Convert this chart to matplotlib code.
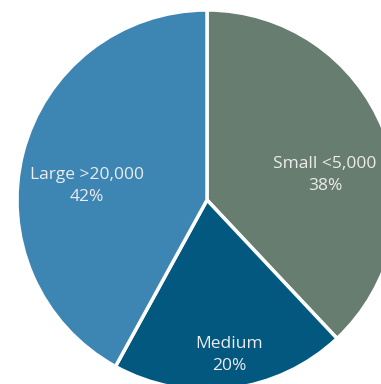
import matplotlib.pyplot as plt

# company size shares
labels = ['Small <5,000', 'Medium', 'Large >20,000']
shares = [38, 20, 42]
colors = ['#667d70', '#02587f', '#3d86b4']

# label spots (pixels from pie centre)
label_xy = [(118, 25), (22, -155), (-120, 14)]

fig = plt.figure(figsize=(3.81, 3.84), dpi=100)
ax = fig.add_axes([0, 0, 1, 1])

ax.pie(shares, colors=colors, startangle=90, counterclock=False, radius=190,
       wedgeprops=dict(edgecolor='white', linewidth=2.5))

for lab, s, (x, y) in zip(labels, shares, label_xy):
    ax.text(x, y, f'{lab}\n{s}%', ha='center', va='center', color='#ececec',
            fontsize=12.5, family='Open Sans', linespacing=1.45)

ax.set_xlim(-207, 174)
ax.set_ylim(-184, 200)
ax.set_aspect('auto')
ax.axis('off')

fig.savefig('out.png', dpi=100, facecolor='white')
